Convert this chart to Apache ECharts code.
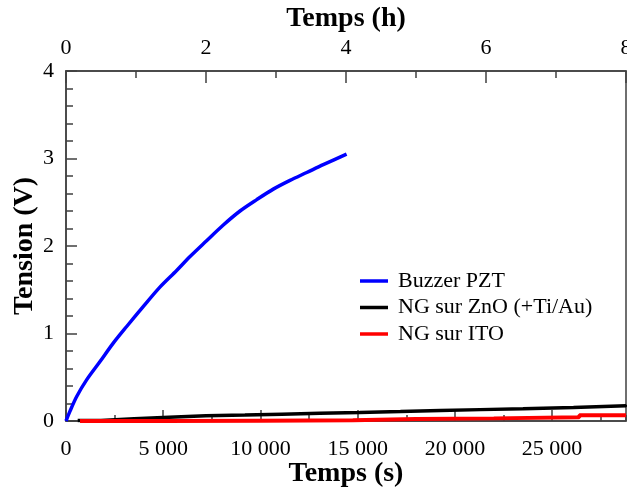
<!DOCTYPE html>
<html lang="fr">
<head>
    <meta charset="UTF-8">
    <title>Tension</title>
    <style>
        html, body { margin: 0; padding: 0; background: #fff; }
        #main { width: 627px; height: 491px; }
    </style>
</head>
<body>
<div id="main"></div>
<script src="https://cdn.jsdelivr.net/npm/echarts@6/dist/echarts.min.js"></script>
<script type="text/javascript">
    // Buzzer PZT (s, V)
    var pztTime = [0, 200, 550, 1060, 1750, 2430, 3120, 3980, 4830, 5690, 6380, 7230, 8090, 8950, 9810, 10660, 11520, 12380, 13230, 14430];
    var pztVolt = [0, 0.11, 0.28, 0.47, 0.68, 0.89, 1.08, 1.31, 1.53, 1.72, 1.88, 2.06, 2.24, 2.40, 2.53, 2.65, 2.75, 2.84, 2.93, 3.05];

    // NG sur ZnO (+Ti/Au) - courbe en escalier
    var znoTime = [600, 1800, 3500, 5300, 7200, 9200, 11100, 13050, 15100, 17200, 19250, 21300, 23500, 26100, 28800];
    var znoVolt = [0.006, 0.025, 0.043, 0.059, 0.068, 0.078, 0.088, 0.097, 0.108, 0.12, 0.13, 0.14, 0.155, 0.175, 0.185];

    // NG sur ITO
    var itoTime = [720, 5000, 10000, 14750, 18000, 22000, 26400, 28800];
    var itoVolt = [0.0, 0.004, 0.008, 0.022, 0.03, 0.042, 0.066, 0.072];

    var names = ['Buzzer PZT', 'NG sur ZnO (+Ti/Au)', 'NG sur ITO'];

    function pairs(t, v) {
        var out = [];
        for (var i = 0; i < t.length; i++) {
            out.push([t[i], v[i]]);
        }
        return out;
    }

    // 5000 -> "5 000"
    function fmt(v) {
        return String(v).replace(/\B(?=(\d{3})+(?!\d))/g, ' ');
    }

    var font = 'Liberation Serif';
    var axisColor = '#404040';
    var titleStyle = { fontFamily: font, fontSize: 28, fontWeight: 'bold', color: '#000' };

    var myChart = echarts.init(document.getElementById('main'));

    myChart.setOption({
        backgroundColor: '#ffffff',
        animation: false,
        color: ['#0000ff', '#000000', '#ff0000'],
        grid: {
            left: 66,
            right: 1,
            top: 71,
            bottom: 70,
            containLabel: false,
            outerBoundsMode: 'none',
            show: true,
            borderColor: axisColor,
            borderWidth: 1.5
        },
        legend: {
            orient: 'vertical',
            left: 355,
            top: 265,
            icon: 'rect',
            itemWidth: 28,
            itemHeight: 3.5,
            itemGap: 4.5,
            data: names,
            textStyle: {
                fontFamily: font,
                fontSize: 22,
                lineHeight: 22,
                color: '#000',
                padding: [0, 0, 0, 5]
            }
        },
        xAxis: [
            {
                // temps en secondes (bas)
                type: 'value',
                position: 'bottom',
                min: 0,
                max: 28800,
                interval: 5000,
                name: 'Temps (s)',
                nameLocation: 'middle',
                nameGap: 39,
                nameMoveOverlap: false,
                nameTextStyle: titleStyle,
                axisLine: { show: true, lineStyle: { color: axisColor, width: 1.5 } },
                axisTick: { show: true, inside: true, length: 11, lineStyle: { color: axisColor, width: 1.5 } },
                axisLabel: { fontFamily: font, fontSize: 22, color: '#000', margin: 17, showMaxLabel: false, formatter: fmt },
                splitLine: { show: false }
            },
            {
                // graduations secondaires (2 500 s)
                type: 'value',
                position: 'bottom',
                min: 0,
                max: 28800,
                interval: 2500,
                axisLine: { show: false },
                axisTick: { show: true, inside: true, length: 6, lineStyle: { color: axisColor, width: 1.5 } },
                axisLabel: { show: false },
                splitLine: { show: false }
            },
            {
                // temps en heures (haut)
                type: 'value',
                position: 'top',
                min: 0,
                max: 8,
                interval: 2,
                name: 'Temps (h)',
                nameLocation: 'middle',
                nameGap: 38,
                nameMoveOverlap: false,
                nameTextStyle: titleStyle,
                axisLine: { show: true, lineStyle: { color: axisColor, width: 1.5 } },
                axisTick: { show: true, inside: true, length: 12, lineStyle: { color: axisColor, width: 1.5 } },
                minorTick: { show: true, splitNumber: 2, length: 7, lineStyle: { color: axisColor, width: 1.5 } },
                axisLabel: { fontFamily: font, fontSize: 22, color: '#000', margin: 12 },
                splitLine: { show: false }
            }
        ],
        yAxis: {
            type: 'value',
            min: 0,
            max: 4,
            interval: 1,
            name: 'Tension (V)',
            nameLocation: 'middle',
            nameGap: 27,
            nameMoveOverlap: false,
            nameTextStyle: titleStyle,
            axisLine: { show: true, lineStyle: { color: axisColor, width: 1.5 } },
            axisTick: { show: true, inside: true, length: 11, lineStyle: { color: axisColor, width: 1.5 } },
            minorTick: { show: true, splitNumber: 5, length: 7, lineStyle: { color: axisColor, width: 1.5 } },
            axisLabel: { fontFamily: font, fontSize: 22, color: '#000', margin: 12 },
            splitLine: { show: false }
        },
        series: [
            {
                name: names[0],
                type: 'line',
                xAxisIndex: 0,
                data: pairs(pztTime, pztVolt),
                smooth: 0.3,
                showSymbol: false,
                lineStyle: { width: 3.5 }
            },
            {
                name: names[1],
                type: 'line',
                xAxisIndex: 0,
                data: pairs(znoTime, znoVolt),
                step: 'end',
                showSymbol: false,
                lineStyle: { width: 3.5 }
            },
            {
                name: names[2],
                type: 'line',
                xAxisIndex: 0,
                data: pairs(itoTime, itoVolt),
                step: 'end',
                showSymbol: false,
                lineStyle: { width: 4 }
            }
        ]
    });
</script>
</body>
</html>
